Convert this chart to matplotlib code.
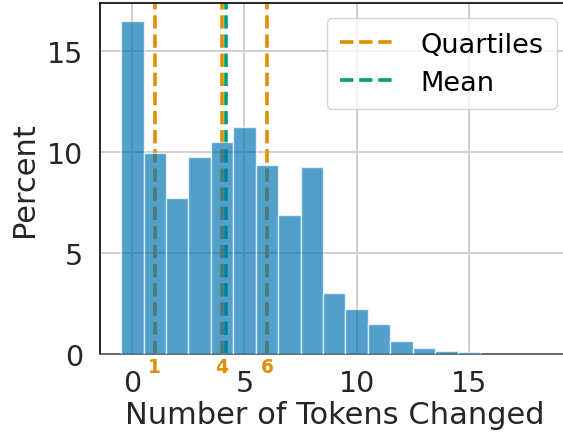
import matplotlib
matplotlib.use("Agg")
import matplotlib.pyplot as plt
import matplotlib.transforms as mtransforms
import numpy as np

# share of edits by number of tokens changed (percent)
tokens = np.arange(16)
percent = [16.5, 9.98, 7.72, 9.78, 10.51, 11.25, 9.35, 6.88, 9.29,
           3.02, 2.21, 1.49, 0.66, 0.31, 0.13, 0.08]
quartiles = [1, 4, 6]
mean_val = 4.18

blue = '#0173b2'
orange = '#de8f05'
green = '#029e73'

plt.rcParams['font.family'] = 'DejaVu Sans'
fig = plt.figure(figsize=(5.63, 4.35), dpi=100)
ax = fig.add_axes([100/563, 80/435, 1.0 - 100/563 + 0.01, 351/435])

ax.bar(tokens, percent, width=1.0, color=blue, alpha=0.68,
       edgecolor='white', linewidth=1.0, zorder=3)

for i, q in enumerate(quartiles):
    ax.axvline(q, color=orange, ls='--', lw=2.6, zorder=2,
               label='Quartiles' if i == 0 else None)
ax.axvline(mean_val, color=green, ls='--', lw=2.6, zorder=2, label='Mean')

trans = mtransforms.blended_transform_factory(ax.transData, ax.transAxes)
for q in quartiles:
    ax.text(q, -0.037, str(q), transform=trans, color=orange, fontsize=13.5,
            fontweight='bold', ha='center', va='center')

ax.set_xlim(-1.44, 19.45)
ax.set_ylim(0, 17.4)
ax.set_xticks([0, 5, 10, 15])
ax.set_yticks([0, 5, 10, 15])
ax.grid(True, color='#cccccc', lw=1.3)
ax.set_axisbelow(True)
ax.tick_params(axis='both', labelsize=20.5, length=0, colors='#262626')
ax.tick_params(axis='x', pad=11)
ax.tick_params(axis='y', pad=12)
ax.set_xlabel('Number of Tokens Changed', fontsize=22, color='#262626', labelpad=2)
ax.set_ylabel('Percent', fontsize=22, color='#262626', labelpad=6)

ax.spines['right'].set_visible(False)
ax.spines['left'].set_color('black')
ax.spines['top'].set_color('black')
ax.spines['bottom'].set_color('#555555')
for s in ax.spines.values():
    s.set_linewidth(1.2)

leg = ax.legend(loc='upper right', fontsize=19.5, frameon=True,
                bbox_to_anchor=(0.975, 0.957), borderaxespad=0,
                handlelength=2.1, handletextpad=0.85,
                borderpad=0.5, labelspacing=0.45, framealpha=0.8)
leg.get_frame().set_edgecolor('#cccccc')

fig.savefig('out.png', dpi=100)
